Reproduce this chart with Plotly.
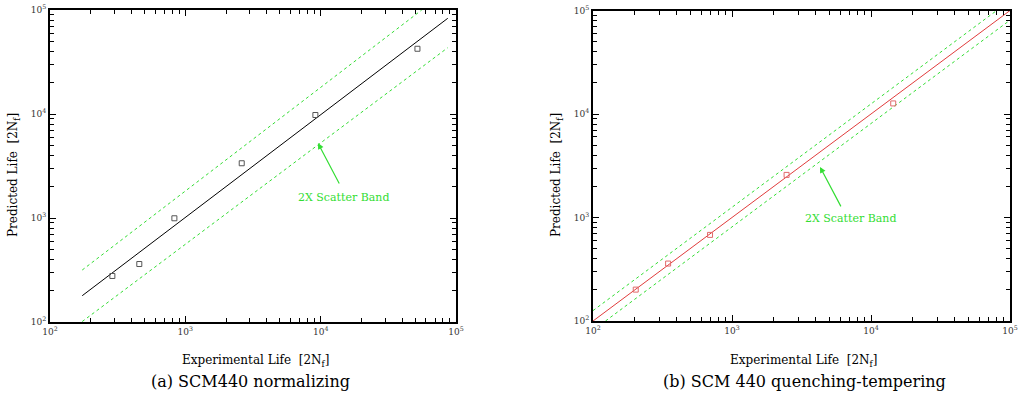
import plotly.graph_objects as go

# ---- data (a) SCM440 normalizing ----
exp_a = [289, 457, 830, 2610, 9140, 51900]
pred_a = [277, 361, 994, 3360, 9780, 42400]
fit_a_x = [173, 86900]
fit_a_y = [179, 83200]
upper_a_x = [173, 55800]
upper_a_y = [316, 100000]
lower_a_x = [173, 86900]
lower_a_y = [101, 43400]

# ---- data (b) SCM 440 quenching-tempering ----
exp_b = [203, 347, 695, 2470, 14450]
pred_b = [201, 359, 679, 2580, 12650]
fit_b_x = [100, 100000]
fit_b_y = [100, 100000]
upper_b_x = [100, 80200]
upper_b_y = [126, 100000]
lower_b_x = [123, 100000]
lower_b_y = [100, 80700]

major_ticks = [100, 1000, 10000, 100000]
major_labels = ["10<sup>2</sup>", "10<sup>3</sup>", "10<sup>4</sup>", "10<sup>5</sup>"]
minor_ticks = [m * d for d in [100, 1000, 10000] for m in range(2, 10)]

W, H = 1022, 396
FONT = "DejaVu Serif"
GREEN = "#33dd33"
DASH = "3px,3px"

fig = go.Figure()

# (a)
fig.add_trace(go.Scatter(x=upper_a_x, y=upper_a_y, mode="lines",
                         line=dict(color=GREEN, width=1, dash=DASH), xaxis="x", yaxis="y"))
fig.add_trace(go.Scatter(x=lower_a_x, y=lower_a_y, mode="lines",
                         line=dict(color=GREEN, width=1, dash=DASH), xaxis="x", yaxis="y"))
fig.add_trace(go.Scatter(x=fit_a_x, y=fit_a_y, mode="lines",
                         line=dict(color="black", width=1), xaxis="x", yaxis="y"))
fig.add_trace(go.Scatter(x=exp_a, y=pred_a, mode="markers",
                         marker=dict(symbol="square-open", size=5, color="#555555",
                                     line=dict(width=1)), xaxis="x", yaxis="y"))

# (b)
fig.add_trace(go.Scatter(x=upper_b_x, y=upper_b_y, mode="lines",
                         line=dict(color=GREEN, width=1, dash=DASH), xaxis="x2", yaxis="y2"))
fig.add_trace(go.Scatter(x=lower_b_x, y=lower_b_y, mode="lines",
                         line=dict(color=GREEN, width=1, dash=DASH), xaxis="x2", yaxis="y2"))
fig.add_trace(go.Scatter(x=fit_b_x, y=fit_b_y, mode="lines",
                         line=dict(color="#e03c3c", width=1), xaxis="x2", yaxis="y2"))
fig.add_trace(go.Scatter(x=exp_b, y=pred_b, mode="markers",
                         marker=dict(symbol="square-open", size=5, color="#e06a6a",
                                     line=dict(width=1)), xaxis="x2", yaxis="y2"))


def axis(domain, anchor):
    return dict(
        type="log", range=[2, 5], domain=domain, anchor=anchor, automargin=False,
        tickmode="array", tickvals=major_ticks, ticktext=major_labels,
        ticks="inside", ticklen=6, tickwidth=1, tickcolor="black",
        minor=dict(tickmode="array", tickvals=minor_ticks, ticks="inside",
                   ticklen=4, tickwidth=1, tickcolor="black", showgrid=False),
        showline=True, linecolor="black", linewidth=2, mirror="allticks",
        showgrid=False, zeroline=False,
        tickfont=dict(family=FONT, size=9, color="#333333"),
    )

xa = [50 / W, 456 / W]
ya = [1 - 322 / H, 1 - 10 / H]
xb = [593 / W, 1010 / W]
yb = [1 - 321 / H, 1 - 10.5 / H]

fig.update_layout(
    width=W, height=H, margin=dict(l=0, r=0, t=0, b=0, autoexpand=False),
    paper_bgcolor="white", plot_bgcolor="white", showlegend=False,
    font=dict(family=FONT),
    xaxis=axis(xa, "y"), yaxis=axis(ya, "x"),
    xaxis2=axis(xb, "y2"), yaxis2=axis(yb, "x2"),
)

ann = []
for (xd, yd, cap, cxp) in [(xa, ya, "(a) SCM440 normalizing", 250),
                           (xb, yb, "(b) SCM 440 quenching-tempering", 804)]:
    cx = (xd[0] + xd[1]) / 2
    ann.append(dict(xref="paper", yref="paper", x=cx + 2 / W, y=1 - 361 / H,
                    text="Experimental Life\u00a0\u00a0[2N<sub>f</sub>]", showarrow=False,
                    font=dict(family=FONT, size=12, color="black"),
                    xanchor="center", yanchor="middle"))
    ann.append(dict(xref="paper", yref="paper", x=cxp / W, y=1 - 381 / H,
                    text=cap, showarrow=False,
                    font=dict(family=FONT, size=16, color="black"),
                    xanchor="center", yanchor="middle"))
    ann.append(dict(xref="paper", yref="paper", x=xd[0] - 36 / W, y=1 - 175 / H,
                    text="Predicted Life\u00a0\u00a0[2N<sub>f</sub>]", showarrow=False,
                    textangle=-90,
                    font=dict(family=FONT, size=12, color="black"),
                    xanchor="center", yanchor="middle"))

# scatter band labels and arrows
ann.append(dict(xref="x", yref="y", x=4.17, y=3.2, text="2X Scatter Band",
                showarrow=False, font=dict(family=FONT, size=11, color=GREEN)))
ann.append(dict(xref="x", yref="y", x=3.98, y=3.72, axref="x", ayref="y",
                ax=4.143, ay=3.317, text="", showarrow=True, arrowhead=2,
                arrowsize=1, arrowwidth=1.2, arrowcolor=GREEN))
ann.append(dict(xref="x2", yref="y2", x=3.856, y=2.986, text="2X Scatter Band",
                showarrow=False, font=dict(family=FONT, size=11, color=GREEN)))
ann.append(dict(xref="x2", yref="y2", x=3.633, y=3.489, axref="x2", ayref="y2",
                ax=3.789, ay=3.093, text="", showarrow=True, arrowhead=2,
                arrowsize=1, arrowwidth=1.2, arrowcolor=GREEN))

fig.update_layout(annotations=ann)
fig.write_html("out.html", config={"displayModeBar": False},
               post_script="document.body.style.margin='0';document.body.style.overflow='hidden';")
